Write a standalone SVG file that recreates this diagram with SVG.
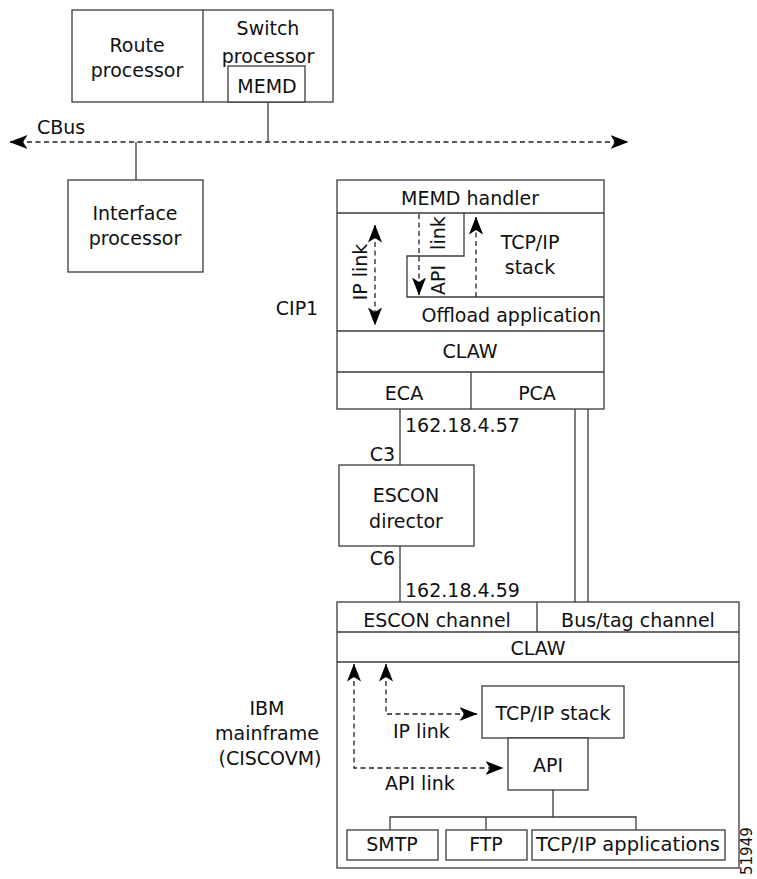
<svg xmlns="http://www.w3.org/2000/svg" width="757" height="879" viewBox="0 0 757 879">
<style>
  .box{fill:#fff;stroke:#3a3a3a;stroke-width:1.3}
  .ln{fill:none;stroke:#3a3a3a;stroke-width:1.3}
  .dash{fill:none;stroke:#222;stroke-width:1.3;stroke-dasharray:5,3.5}
  text{font-family:"DejaVu Sans","Liberation Sans",sans-serif;font-size:19px;fill:#111}
  .c{text-anchor:middle}
  .e{text-anchor:end}
</style>
<defs>
  <marker id="ah" viewBox="0 0 18 14" refX="17.5" refY="7" markerWidth="18" markerHeight="14" markerUnits="userSpaceOnUse" orient="auto-start-reverse">
    <path d="M0,0 L18,7 L0,14 L4.5,7 Z" fill="#000"/>
  </marker>
</defs>
<rect width="757" height="879" fill="#fff"/>

<g id="route-switch">
  <rect class="box" x="72" y="10" width="261" height="92"/>
  <line class="ln" x1="203" y1="10" x2="203" y2="102"/>
  <text class="c" x="137" y="52">Route</text>
  <text class="c" x="137" y="77">processor</text>
  <text class="c" x="268" y="35">Switch</text>
  <text class="c" x="268" y="63">processor</text>
</g>
<g id="memd">
  <rect class="box" x="228" y="66" width="77" height="36"/>
  <text class="c" x="267" y="93">MEMD</text>
</g>
<g id="cbus-label">
  <text x="37" y="134">CBus</text>
</g>
<g id="interface-processor">
  <rect class="box" x="68" y="180" width="135" height="92"/>
  <text class="c" x="135" y="220">Interface</text>
  <text class="c" x="135" y="245">processor</text>
</g>

<g id="cip1">
  <rect class="box" x="337" y="180" width="267" height="229"/>
  <line class="ln" x1="337" y1="213" x2="604" y2="213"/>
  <text class="c" x="470" y="205">MEMD handler</text>
  <path class="ln" d="M464,213 V256 H407 V297 H604"/>
  <text class="c" x="530" y="249">TCP/IP</text>
  <text class="c" x="530" y="274">stack</text>
  <text class="e" x="601" y="322">Offload application</text>
  <line class="ln" x1="337" y1="331" x2="604" y2="331"/>
  <text class="c" x="470" y="358">CLAW</text>
  <line class="ln" x1="337" y1="372" x2="604" y2="372"/>
  <line class="ln" x1="471" y1="372" x2="471" y2="409"/>
  <text class="c" x="404" y="400">ECA</text>
  <text class="c" x="537" y="400">PCA</text>
  <text class="c" transform="translate(367,272) rotate(-90)">IP link</text>
  <text transform="translate(445,295) rotate(-90)" word-spacing="9">API link</text>
</g>
<g id="cip1-label">
  <text class="c" x="297" y="315">CIP1</text>
</g>

<g id="escon-director">
  <rect class="box" x="339" y="465" width="135" height="81"/>
  <text class="c" x="406" y="502">ESCON</text>
  <text class="c" x="406" y="528">director</text>
</g>
<g id="addr-labels">
  <text x="405" y="432">162.18.4.57</text>
  <text class="e" x="395" y="461">C3</text>
  <text class="e" x="395" y="565">C6</text>
  <text x="405" y="597">162.18.4.59</text>
</g>

<g id="mainframe">
  <rect class="box" x="337" y="602" width="402" height="266"/>
  <line class="ln" x1="337" y1="632" x2="739" y2="632"/>
  <line class="ln" x1="537" y1="602" x2="537" y2="632"/>
  <line class="ln" x1="337" y1="662" x2="739" y2="662"/>
  <text class="c" x="437" y="627">ESCON channel</text>
  <text class="c" x="638" y="627">Bus/tag channel</text>
  <text class="c" x="538" y="655">CLAW</text>
  <text x="393" y="738">IP link</text>
  <text x="385" y="790">API link</text>
</g>
<g id="mainframe-label">
  <text class="c" x="267" y="715">IBM</text>
  <text class="c" x="267" y="740">mainframe</text>
  <text class="c" x="270" y="765">(CISCOVM)</text>
</g>
<g id="tcpip-stack">
  <rect class="box" x="482" y="686" width="142" height="52"/>
  <text class="c" x="553" y="720">TCP/IP stack</text>
</g>
<g id="api">
  <rect class="box" x="508" y="738" width="80" height="52"/>
  <text class="c" x="548" y="772">API</text>
</g>
<g id="smtp">
  <rect class="box" x="347" y="830" width="91" height="30"/>
  <text class="c" x="392" y="851">SMTP</text>
</g>
<g id="ftp">
  <rect class="box" x="446" y="830" width="81" height="30"/>
  <text class="c" x="486" y="851">FTP</text>
</g>
<g id="tcpip-apps">
  <rect class="box" x="532" y="830" width="193" height="30"/>
  <text class="c" x="628" y="851" textLength="184" lengthAdjust="spacingAndGlyphs">TCP/IP applications</text>
</g>
<g id="figure-id">
  <text transform="translate(752,875) rotate(-90)" style="font-size:15px">51949</text>
</g>

<g id="connectors">
  <line class="dash" x1="10" y1="142" x2="628" y2="142" marker-start="url(#ah)" marker-end="url(#ah)"/>
  <line class="ln" x1="268" y1="102" x2="268" y2="142"/>
  <line class="ln" x1="136" y1="142" x2="136" y2="180"/>
  <line class="ln" x1="400" y1="409" x2="400" y2="465"/>
  <line class="ln" x1="400" y1="546" x2="400" y2="602"/>
  <line class="ln" x1="575" y1="409" x2="575" y2="602"/>
  <line class="ln" x1="588" y1="409" x2="588" y2="602"/>
  <path class="ln" d="M553,790 V817 M390,830 V817 H636 V830 M486,817 V830"/>
  <path class="dash" d="M354,664 V768 H503" marker-start="url(#ah)" marker-end="url(#ah)"/>
  <path class="dash" d="M386,664 V714 H477" marker-start="url(#ah)" marker-end="url(#ah)"/>
  <line class="dash" x1="375" y1="225" x2="375" y2="325" marker-start="url(#ah)" marker-end="url(#ah)"/>
  <line class="dash" x1="419" y1="214" x2="419" y2="295" marker-end="url(#ah)"/>
  <line class="dash" x1="476" y1="297" x2="476" y2="217" marker-end="url(#ah)"/>
</g>
</svg>
